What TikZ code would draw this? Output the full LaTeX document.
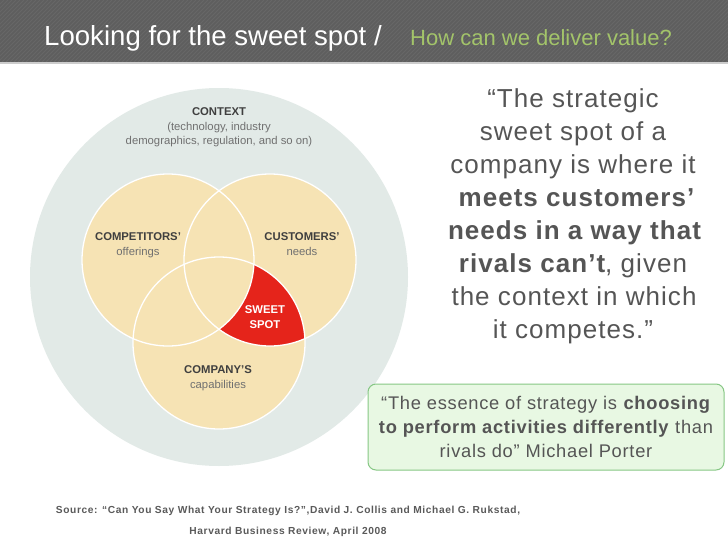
\documentclass[tikz,border=0pt]{standalone}
\usepackage{fontspec}
\setmainfont{Liberation Sans}
\newfontfamily\qfont[LetterSpace=4]{Liberation Sans}
\newfontfamily\srcfont[LetterSpace=6]{Liberation Sans}
\definecolor{band}{HTML}{5E5E5E}
\definecolor{stripe}{HTML}{676767}
\definecolor{subgreen}{HTML}{A3C46A}
\definecolor{ctx}{HTML}{E2EAE7}
\definecolor{beige}{HTML}{F6E3B4}
\definecolor{sweet}{HTML}{E5241B}
\definecolor{lblbold}{HTML}{3F3F3F}
\definecolor{lblreg}{HTML}{707070}
\definecolor{qtext}{HTML}{555555}
\definecolor{boxfill}{HTML}{E8F8E3}
\definecolor{boxline}{HTML}{86C784}
\definecolor{srcgray}{HTML}{5A5A5A}
\begin{document}
\begin{tikzpicture}[x=1pt,y=-1pt,
  vl/.style={align=center, anchor=north, inner sep=0, font=\fontsize{11.3}{14.5}\selectfont, text=lblreg},
  ql/.style={anchor=base, inner sep=0, text=qtext, font=\qfont\fontsize{26}{30}\selectfont},
  srcl/.style={anchor=base, inner sep=0, text=srcgray, font=\srcfont\bfseries\fontsize{10.2}{12}\selectfont},
  vring/.style={draw=white, line width=1.3pt}]
\useasboundingbox (0,0) rectangle (728,546);
\fill[white] (0,0) rectangle (728,546);
% header band
\fill[band] (0,0) rectangle (728,62);
\begin{scope}
  \clip (0,0) rectangle (728,62);
  \foreach \i in {-70,-66,...,730} \draw[stripe, line width=0.8pt] (\i,62) -- ++(62,-62);
\end{scope}
\fill[black!20] (0,62) rectangle (728,63.5);
\node[anchor=base west, inner sep=0, text=white, font=\fontsize{27.6}{30}\selectfont] (title) at (44,45)
  {Looking for the sweet spot /};
\node[anchor=base west, inner sep=0, text=subgreen, font=\fontsize{22}{26}\selectfont] (subtitle) at (410,45)
  {How can we deliver value?};
% venn
\fill[ctx] (219,277) circle[radius=189];
\fill[beige] (168,260) circle[radius=86];
\fill[beige] (270,260) circle[radius=86];
\fill[beige] (219,343) circle[radius=86];
\begin{scope}
  \clip (270,260) circle[radius=86];
  \clip (219,343) circle[radius=86];
  \fill[sweet, even odd rule] (0,0) rectangle (728,546) (168,260) circle[radius=86];
\end{scope}
\draw[vring] (168,260) circle[radius=86];
\draw[vring] (270,260) circle[radius=86];
\draw[vring] (219,343) circle[radius=86];
\node[vl] (context) at (219,107.5) {\textcolor{lblbold}{\textbf{CONTEXT}}\\(technology, industry\\demographics, regulation, and so on)};
\node[vl] (competitors) at (138,232.5) {\textcolor{lblbold}{\textbf{COMPETITORS’}}\\offerings};
\node[vl] (customers) at (302,232.5) {\textcolor{lblbold}{\textbf{CUSTOMERS’}}\\needs};
\node[vl, text=white] (sweetspot) at (265,305.5) {\textbf{SWEET}\\\textbf{SPOT}};
\node[vl] (company) at (218,365.5) {\textcolor{lblbold}{\textbf{COMPANY’S}}\\capabilities};
% right quote
\node[ql] (q1) at (573,107) {“The strategic};
\node[ql] (q2) at (573,140) {sweet spot of a};
\node[ql] (q3) at (573,173) {company is where it};
\node[ql] (q4) at (577,206) {\textbf{meets customers’}};
\node[ql] (q5) at (575,239) {\textbf{needs in a way that}};
\node[ql] (q6) at (573,272) {\textbf{rivals can’t}, given};
\node[ql] (q7) at (574,305) {the context in which};
\node[ql] (q8) at (573,338) {it competes.”};
% porter box
\node[draw=boxline, fill=boxfill, rounded corners=8pt, line width=1pt, minimum width=356pt, minimum height=86pt,
  inner sep=0, align=center, text=qtext, font=\qfont\fontsize{18.3}{24}\selectfont] (porter) at (546,427)
  {“The essence of strategy is \textbf{choosing}\\\textbf{to perform activities differently} than\\rivals do” Michael Porter};
% source
\node[srcl] (src1) at (288,513) {Source: “Can You Say What Your Strategy Is?”,David J. Collis and Michael G. Rukstad,};
\node[srcl] (src2) at (288,534) {Harvard Business Review, April 2008};
\end{tikzpicture}
\end{document}
